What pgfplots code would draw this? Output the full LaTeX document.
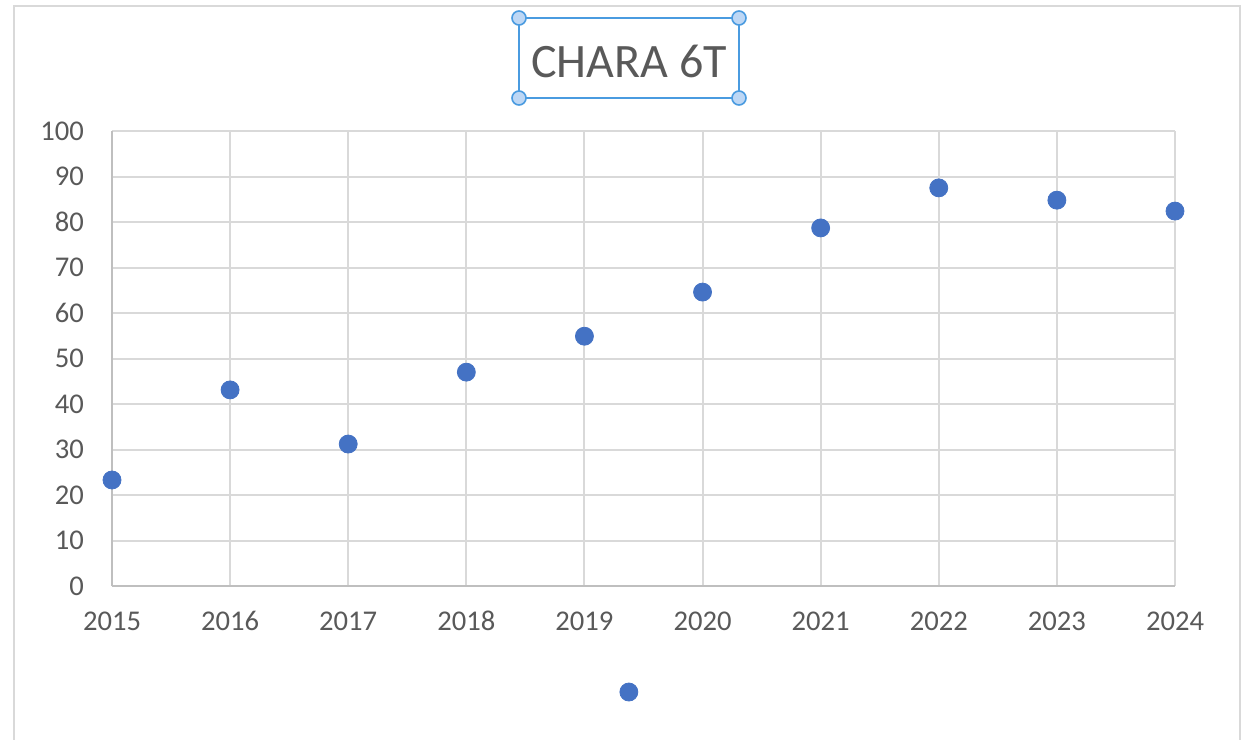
\documentclass[border=0pt]{standalone}
\usepackage{pgfplots}
\pgfplotsset{compat=1.18}
\usepackage{fontspec}
\setmainfont{Carlito}
\definecolor{gridc}{HTML}{D9D9D9}
\definecolor{axisc}{HTML}{BFBFBF}
\definecolor{txt}{HTML}{595959}
\definecolor{dotc}{HTML}{4472C4}
\definecolor{sel}{HTML}{4A9BE0}
\definecolor{selfill}{HTML}{BDD7F5}
\begin{document}
\begin{tikzpicture}
\begin{scope}[x=0.5pt,y=-0.5pt]
\useasboundingbox (0,0) rectangle (1255,740);
\draw[gridc, line width=1pt] (14,760) -- (14,6) -- (1240,6) -- (1240,760);
\end{scope}
\begin{axis}[
  at={(56pt,-293pt)}, anchor=south west,
  scale only axis, width=531.5pt, height=227.5pt,
  xmin=2015, xmax=2024, ymin=0, ymax=100,
  xtick={2015,2016,...,2024}, ytick={0,10,...,100},
  axis lines=left, axis line style={-, draw=axisc, line width=1pt},
  grid=major, major grid style={draw=gridc, line width=1pt},
  major tick length=0pt,
  clip=false,
  /pgf/number format/assume math mode=true,
  /pgf/number format/1000 sep={},
  ticklabel style={font=\fontsize{14.3}{16}\selectfont, text=txt},
  yticklabel style={anchor=east, xshift=-10.5pt},
  xticklabel style={anchor=north, yshift=-9pt, text height=9.5pt, text depth=0pt},
  legend style={draw=none, fill=none, at={(0.4900,-0.233)}, anchor=center},
]
\addplot[only marks, mark=*, mark size=4.5pt, mark options={draw=dotc, fill=dotc}] coordinates {
  (2015,23.3) (2016,43.1) (2017,31.2) (2018,47.0) (2019,54.9)
  (2020,64.6) (2021,78.7) (2022,87.5) (2023,84.8) (2024,82.4)
};
\addlegendentry{}
\end{axis}
\begin{scope}[x=0.5pt,y=-0.5pt]
\draw[sel, line width=1pt] (519,18) rectangle (739,98);
\node[text=txt, font=\fontsize{24}{28}\selectfont] at (629,61) {CHARA 6T};
\foreach \p in {(519,18),(739,18),(519,98),(739,98)}
  \draw[sel, fill=selfill, line width=0.8pt] \p circle (7);
\end{scope}
\end{tikzpicture}
\end{document}
